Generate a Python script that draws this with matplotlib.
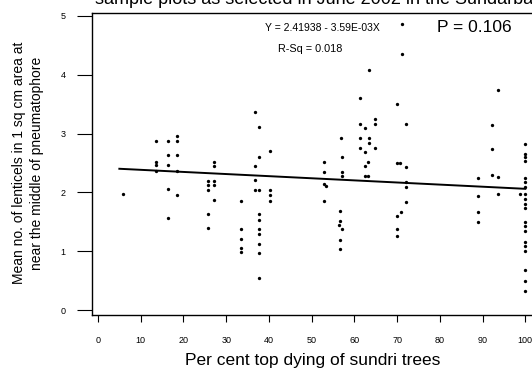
import matplotlib
matplotlib.use("Agg")
import matplotlib.pyplot as plt
import numpy as np

plt.rcParams['font.family'] = ['Liberation Sans', 'DejaVu Sans']

# Data: (per cent top dying, mean no. of lenticels)
x_vals = [5.8,
          13.5, 13.5, 13.5, 13.5,
          16.5, 16.5, 16.5, 16.5, 16.5,
          18.4, 18.4, 18.4, 18.4, 18.4,
          25.8, 25.8, 25.8, 25.8, 25.8,
          27.2, 27.2, 27.2, 27.2, 27.2,
          33.4, 33.4, 33.4, 33.4, 33.4,
          36.8, 36.8, 36.8, 36.8,
          37.7, 37.7, 37.7, 37.7, 37.7, 37.7, 37.7, 37.7, 37.7, 37.7,
          40.2, 40.2, 40.2, 40.2,
          52.9, 52.9, 52.9, 52.9, 53.4,
          56.8, 57.2, 57.2, 57.2, 56.7, 56.7, 56.5, 57.1, 56.7, 56.6,
          61.4, 61.4, 61.4, 61.4,
          62.5, 62.5, 62.5, 62.5,
          63.5, 63.5, 63.5, 63.3, 63.3,
          64.9, 64.9, 64.9,
          70.0, 70.0, 70.0, 70.0, 70.0, 70.7,
          71.2, 71.1, 71.0,
          72.0, 72.0, 72.0, 72.0, 72.0,
          88.9, 88.9, 88.9, 88.9,
          92.3, 92.3, 92.3,
          93.5, 93.5, 93.5,
          98.8,
          100, 100, 100, 100, 100, 100, 100, 100, 100, 100,
          100, 100, 100, 100, 100, 100, 100, 100, 100, 100]
y_vals = [1.97,
          2.88, 2.52, 2.47, 2.36,
          2.87, 2.63, 2.47, 2.06, 1.56,
          2.96, 2.87, 2.63, 2.37, 1.96,
          2.19, 2.13, 2.04, 1.64, 1.39,
          2.52, 2.45, 2.19, 2.13, 1.87,
          1.86, 1.37, 1.20, 1.05, 0.98,
          3.36, 2.45, 2.21, 2.04,
          3.11, 2.61, 2.04, 1.63, 1.53, 1.38, 1.29, 1.13, 0.97, 0.54,
          2.70, 2.04, 1.95, 1.86,
          2.51, 2.35, 2.15, 1.85, 2.10,
          2.93, 2.61, 2.35, 2.27, 1.69, 1.52, 1.45, 1.37, 1.19, 1.03,
          3.60, 3.16, 2.93, 2.76,
          3.09, 2.68, 2.44, 2.27,
          4.08, 2.93, 2.84, 2.51, 2.27,
          3.25, 3.16, 2.75,
          3.50, 2.50, 1.60, 1.37, 1.26, 2.50,
          4.86, 4.35, 1.67,
          3.16, 2.43, 2.18, 2.09, 1.84,
          2.24, 1.93, 1.66, 1.50,
          3.15, 2.74, 2.30,
          3.74, 2.26, 1.98,
          1.98,
          2.83, 2.66, 2.60, 2.53, 2.24, 2.17, 2.09, 1.97, 1.89, 1.80,
          1.73, 1.50, 1.43, 1.35, 1.16, 1.09, 1.01, 0.68, 0.49, 0.32]

intercept = 2.41938
slope = -3.59e-03
fit_x = [5, 100]

x_ticks = [0, 10, 20, 30, 40, 50, 60, 70, 80, 90, 100]
y_ticks = [0, 1, 2, 3, 4, 5]

title = "sample plots as selected in June 2002 in the Sundarbans"
xlabel = "Per cent top dying of sundri trees"
ylabel = "Mean no. of lenticels in 1 sq cm area at\nnear the middle of pneumatophore"
eq_text = "Y = 2.41938 - 3.59E-03X"
rsq_text = "R-Sq = 0.018"
p_text = "P = 0.106"

W, H = 532, 371
fig = plt.figure(figsize=(W / 100, H / 100), dpi=100)
ax = fig.add_axes([92 / W, 1 - 315 / H, (536 - 92) / W, (315 - 13) / H])

ax.plot(x_vals, y_vals, 'o', color='black', markersize=2.4, markeredgewidth=0)
fx = np.array(fit_x, dtype=float)
ax.plot(fx, intercept + slope * fx, color='black', linewidth=1.4)

ax.set_xlim(-1.4, 102.5)
ax.set_ylim(-0.085, 5.05)
ax.set_xticks(x_ticks)
ax.set_yticks(y_ticks)
ax.tick_params(axis='y', direction='out', length=11, width=0.8, pad=8, labelsize=6.5)
ax.tick_params(axis='x', direction='out', length=5, width=0.8, pad=10, labelsize=6.5)
for s in ax.spines.values():
    s.set_linewidth(1.0)

fig.text(313 / W, 1 - 360 / H, xlabel, fontsize=12.5, ha='center', va='center')
fig.text(28 / W, 1 - 163 / H, ylabel, rotation=90, fontsize=10,
         ha='center', va='center', linespacing=1.4)

fig.text(95 / W, 1 - 4 / H, title, fontsize=13, ha='left', va='baseline')

fig.text(322 / W, 1 - 28 / H, eq_text, fontsize=7.5, ha='center', va='center')
fig.text(310 / W, 1 - 49 / H, rsq_text, fontsize=7.8, ha='center', va='center')
fig.text(474 / W, 1 - 28 / H, p_text, fontsize=12.5, ha='center', va='center')

fig.savefig("out.png", dpi=100)
